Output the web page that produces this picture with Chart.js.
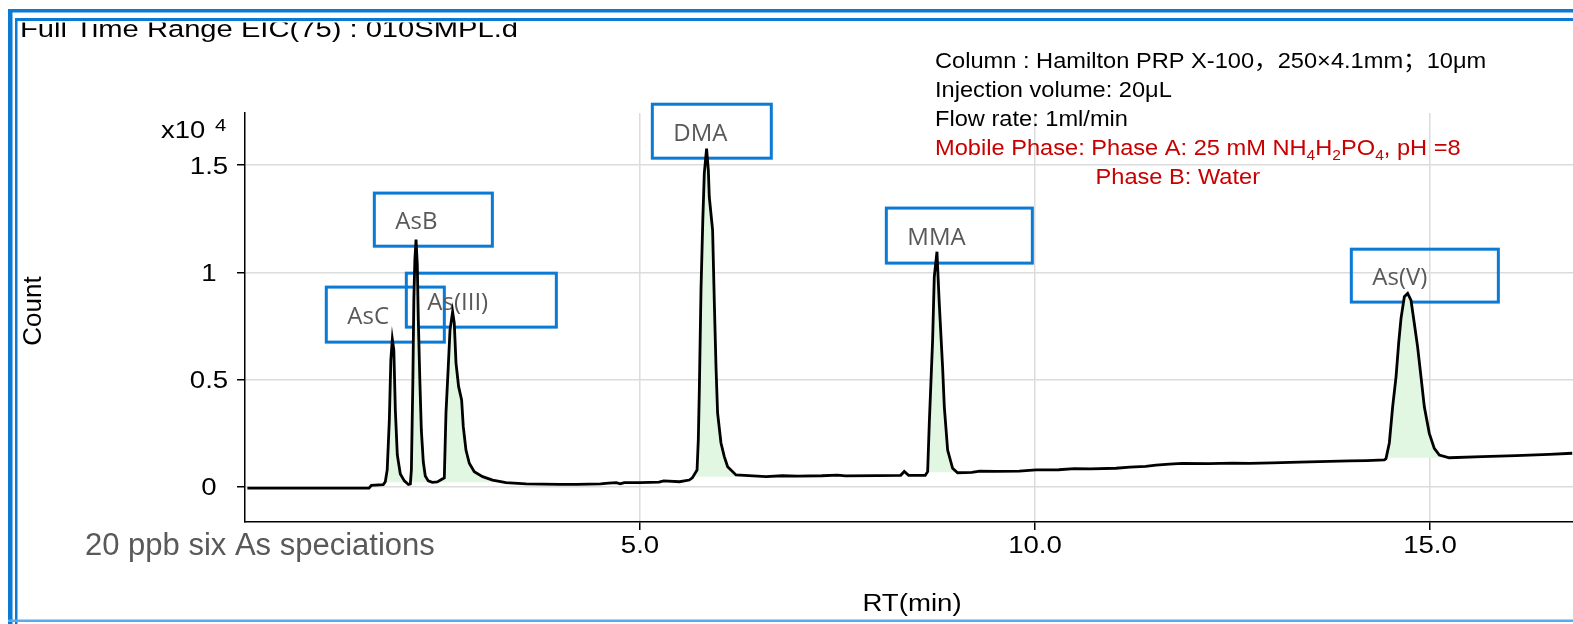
<!DOCTYPE html>
<html>
<head>
<meta charset="utf-8">
<script src="https://cdn.jsdelivr.net/npm/chart.js@4.4.1/dist/chart.umd.min.js"></script>
<style>
  html, body { margin: 0; padding: 0; background: #fff; overflow: hidden; }
  #eic { display: block; }
</style>
</head>
<body>
<canvas id="eic" width="1573" height="624"></canvas>
<script>
// retention time (min) and count (x10^4)
const rtMin = [
  0.03, 1.57, 1.60, 1.75, 1.776, 1.80, 1.827, 1.846, 1.865, 1.884, 1.903, 1.928, 1.966, 2.017, 2.068, 2.093,
  2.106, 2.125, 2.137, 2.150, 2.165, 2.181, 2.194, 2.213, 2.232, 2.257, 2.282, 2.320, 2.371, 2.434, 2.497,
  2.523, 2.544, 2.573, 2.595, 2.628, 2.649, 2.671, 2.704, 2.742, 2.763, 2.797, 2.839, 2.902, 3.008, 3.134,
  3.304, 3.557, 3.978, 4.20, 4.50, 4.60, 4.70, 4.75, 4.80, 5.00, 5.24, 5.30, 5.50, 5.624,
  5.662, 5.722, 5.738, 5.751, 5.772, 5.795, 5.814, 5.843, 5.865, 5.877, 5.919, 5.941, 5.962, 5.982, 6.025,
  6.067, 6.109, 6.215, 6.595, 6.80, 7.00, 7.30, 7.50, 7.60, 8.00, 8.30, 8.345, 8.40, 8.611,
  8.641, 8.662, 8.704, 8.725, 8.759, 8.788, 8.830, 8.852, 8.894, 8.957, 9.020, 9.20, 9.30, 9.50, 9.80,
  10.013, 10.30, 10.50, 10.70, 11.025, 11.20, 11.40, 11.532, 11.70, 11.865, 12.20, 12.50, 12.713, 13.00,
  13.346, 13.60, 13.979, 14.20, 14.422,
  14.443, 14.485, 14.527, 14.570, 14.603, 14.633, 14.675, 14.717, 14.759, 14.801, 14.843, 14.886, 14.928,
  14.991, 15.054, 15.118, 15.244, 15.662, 16.088, 16.510, 16.80
];
const countE4 = [
  -0.008, -0.008, 0.005, 0.009, 0.022, 0.077, 0.31, 0.59, 0.687, 0.637, 0.357, 0.147, 0.058, 0.026, 0.009, 0.012,
  0.077, 0.497, 0.87, 1.057, 1.153, 1.034, 0.777, 0.497, 0.264, 0.114, 0.049, 0.026, 0.019, 0.021, 0.035,
  0.040, 0.343, 0.559, 0.730, 0.816, 0.763, 0.576, 0.466, 0.404, 0.279, 0.170, 0.108, 0.069, 0.046, 0.030,
  0.018, 0.012, 0.010, 0.010, 0.012, 0.016, 0.018, 0.012, 0.018, 0.018, 0.020, 0.026, 0.022, 0.030,
  0.040, 0.077, 0.217, 0.450, 0.917, 1.244, 1.463, 1.578, 1.477, 1.352, 1.197, 0.856, 0.559, 0.343, 0.203,
  0.139, 0.092, 0.054, 0.046, 0.050, 0.048, 0.050, 0.053, 0.049, 0.051, 0.052, 0.070, 0.052, 0.052,
  0.069, 0.296, 0.684, 0.979, 1.096, 0.856, 0.559, 0.372, 0.170, 0.085, 0.064, 0.066, 0.072, 0.070, 0.072,
  0.077, 0.078, 0.083, 0.082, 0.085, 0.090, 0.094, 0.100, 0.104, 0.108, 0.107, 0.109, 0.108, 0.110,
  0.114, 0.116, 0.119, 0.121, 0.124,
  0.130, 0.203, 0.372, 0.512, 0.668, 0.785, 0.886, 0.902, 0.870, 0.762, 0.652, 0.512, 0.372,
  0.248, 0.178, 0.147, 0.134, 0.139, 0.144, 0.150, 0.155
];

// integrated peak windows: start, end, baseline level (x10^4)
const peakStart = [1.78, 5.66, 8.63, 14.44];
const peakEnd = [3.30, 6.30, 9.00, 15.20];
const peakBase = [0.020, 0.045, 0.066, 0.134];

const peakNames = ["AsC", "AsB", "As(III)", "DMA", "MMA", "As(V)"];

const xTicks = [5, 10, 15];
const xTickLabels = ["5.0", "10.0", "15.0"];
const yTicks = [0, 0.5, 1, 1.5];
const yTickLabels = ["0", "0.5", "1", "1.5"];

// label boxes around the peaks, in axis units: [x0, x1, yTop, yBottom]
const nameBoxes = [
  [1.029, 2.523, 0.931, 0.674],
  [1.637, 3.131, 1.370, 1.122],
  [2.042, 3.941, 0.996, 0.744],
  [5.156, 6.662, 1.785, 1.533],
  [8.118, 9.966, 1.300, 1.043],
  [14.004, 15.865, 1.108, 0.861],
];

const BLUE = "#0a7ad4";
const SANS = '"Liberation Sans", Arial, "Noto Sans CJK SC", sans-serif';

const trace = rtMin.map((t, i) => ({ x: t, y: countE4[i] }));

const fillSets = peakStart.map((from, k) => {
  const base = peakBase[k];
  const pts = trace
    .filter((p) => p.x > from && p.x < peakEnd[k])
    .map((p) => ({ x: p.x, y: Math.max(p.y, base) }));
  return {
    data: [{ x: from, y: base }, ...pts, { x: peakEnd[k], y: base }],
    borderWidth: 0,
    pointRadius: 0,
    backgroundColor: "#e1f7e1",
    fill: { value: base },
  };
});

function stretchText(ctx, str, x, y, font, color, sx, align) {
  ctx.save();
  ctx.font = font;
  ctx.fillStyle = color;
  ctx.textAlign = align || "left";
  ctx.textBaseline = "alphabetic";
  ctx.translate(x, y);
  ctx.scale(sx || 1, 1);
  ctx.fillText(str, 0, 0);
  ctx.restore();
}

function drawRuns(ctx, runs, x, y, size, sx, color) {
  ctx.save();
  ctx.fillStyle = color;
  ctx.textBaseline = "alphabetic";
  ctx.translate(x, y);
  ctx.scale(sx, 1);
  let cx = 0;
  runs.forEach(([str, sub]) => {
    ctx.font = (sub ? size * 0.66 : size) + "px " + SANS;
    ctx.fillText(str, cx, sub ? size * 0.22 : 0);
    cx += ctx.measureText(str).width;
  });
  ctx.restore();
}

const decor = {
  id: "decor",
  beforeDraw(chart) {
    const ctx = chart.ctx;
    ctx.save();
    ctx.fillStyle = "#fff";
    ctx.fillRect(0, 0, chart.width, chart.height);
    ctx.restore();
  },
  beforeDatasetsDraw(chart) {
    const { ctx, scales: { x, y } } = chart;
    ctx.save();
    ctx.strokeStyle = BLUE;
    ctx.lineWidth = 3;
    nameBoxes.forEach((b, i) => {
      const x0 = x.getPixelForValue(b[0]);
      const x1 = x.getPixelForValue(b[1]);
      const y0 = y.getPixelForValue(b[2]);
      const y1 = y.getPixelForValue(b[3]);
      ctx.strokeRect(x0, y0, x1 - x0, y1 - y0);
      stretchText(ctx, peakNames[i], x0 + 21, (y0 + y1) / 2 + 9.5, '24px "Open Sans", sans-serif', "#595959");
    });
    ctx.restore();
  },
  afterDraw(chart) {
    const { ctx, chartArea, scales: { x, y } } = chart;
    const tickFont = "23px " + SANS;

    xTicks.forEach((v, i) => {
      stretchText(ctx, xTickLabels[i], x.getPixelForValue(v), 553, tickFont, "#000", 1.2, "center");
    });
    yTicks.forEach((v, i) => {
      stretchText(ctx, yTickLabels[i], 209, y.getPixelForValue(v) + 8.3, tickFont, "#000", 1.2, "center");
    });

    stretchText(ctx, "x10", 161, 138, tickFont, "#000", 1.19);
    stretchText(ctx, "4", 215, 131, "17px " + SANS, "#000", 1.19);

    stretchText(ctx, "RT(min)", (chartArea.left + chartArea.right) / 2 + 3, 611, tickFont, "#000", 1.2, "center");
    ctx.save();
    ctx.translate(41, 311);
    ctx.rotate(-Math.PI / 2);
    stretchText(ctx, "Count", 0, 0, "26px " + SANS, "#000", 1, "center");
    ctx.restore();

    stretchText(ctx, "20 ppb six As speciations", 85, 555, "31px " + SANS, "#595959");

    // method notes
    const noteSize = 22.5;
    const noteFont = noteSize + "px " + SANS;
    stretchText(ctx, "Column : Hamilton PRP X-100，250×4.1mm；10μm", 935, 67.7, noteFont, "#000", 1.05);
    stretchText(ctx, "Injection volume: 20μL", 935, 96.7, noteFont, "#000", 1.05);
    stretchText(ctx, "Flow rate: 1ml/min", 935, 125.7, noteFont, "#000", 1.05);
    drawRuns(ctx, [
      ["Mobile Phase: Phase A: 25 mM NH", 0], ["4", 1], ["H", 0], ["2", 1],
      ["PO", 0], ["4", 1], [", pH =8", 0],
    ], 935, 154.7, noteSize, 1.05, "#c80000");
    stretchText(ctx, "Phase B: Water", 1095.5, 183.5, noteFont, "#c80000", 1.05);

    // window title, cut by the frame
    ctx.save();
    ctx.beginPath();
    ctx.rect(0, 22.5, chart.width, 40);
    ctx.clip();
    stretchText(ctx, "Full Time Range EIC(75) : 010SMPL.d", 20, 36.5, "24.5px " + SANS, "#000", 1.19);
    ctx.restore();

    // frame
    ctx.save();
    ctx.fillStyle = BLUE;
    ctx.fillRect(8, 9, chart.width - 8, 3.5);
    ctx.fillRect(8, 9, 4.5, chart.height - 9);
    ctx.fillRect(15, 18, chart.width - 15, 3);
    ctx.fillRect(15, 18, 2.5, chart.height - 18);
    ctx.fillStyle = "#5aaaf0";
    ctx.fillRect(8, 619.5, chart.width - 8, 2.5);
    ctx.restore();
  },
};

new Chart(document.getElementById("eic"), {
  type: "line",
  data: {
    datasets: [
      {
        data: trace,
        borderColor: "#000",
        borderWidth: 2.8,
        pointRadius: 0,
        tension: 0,
        fill: false,
      },
      ...fillSets,
    ],
  },
  options: {
    responsive: false,
    animation: false,
    devicePixelRatio: 1,
    layout: { padding: { top: 113, left: 0, right: 0, bottom: 0 } },
    plugins: {
      legend: { display: false },
      tooltip: { enabled: false },
    },
    scales: {
      x: {
        type: "linear",
        min: 0,
        max: 16.81,
        afterBuildTicks: (axis) => {
          axis.ticks = xTicks.map((v) => ({ value: v }));
        },
        afterFit: (axis) => {
          axis.height = 102;
        },
        ticks: { display: false },
        grid: { color: "#dcdcdc", lineWidth: 1.5, tickColor: "#000", tickLength: 8, tickWidth: 1.5 },
        border: { color: "#000", width: 1.5 },
      },
      y: {
        type: "linear",
        min: -0.166,
        max: 1.744,
        afterBuildTicks: (axis) => {
          axis.ticks = yTicks.map((v) => ({ value: v }));
        },
        afterFit: (axis) => {
          axis.width = 245;
        },
        ticks: { display: false },
        grid: { color: "#dcdcdc", lineWidth: 1.5, tickColor: "#000", tickLength: 8, tickWidth: 1.5 },
        border: { color: "#000", width: 1.5 },
      },
    },
  },
  plugins: [decor],
});
</script>
</body>
</html>
